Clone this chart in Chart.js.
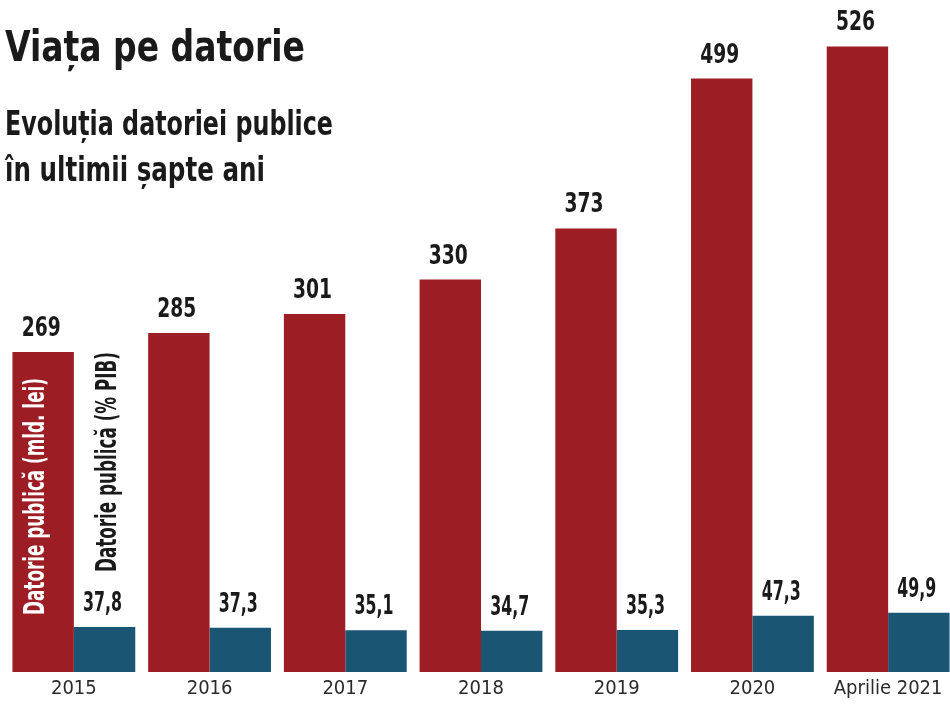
<!DOCTYPE html>
<html>
<head>
<meta charset="utf-8">
<script src="https://cdn.jsdelivr.net/npm/chart.js@4"></script>
<style>
  html, body { margin: 0; padding: 0; background: #fff; overflow: hidden; }
  #wrap { width: 950px; height: 706px; overflow: hidden; }
</style>
</head>
<body>
<div id="wrap"><canvas id="datorieChart" width="956" height="706"></canvas></div>
<script>
// date: datoria publica
const ani = ["2015", "2016", "2017", "2018", "2019", "2020", "Aprilie 2021"];
const datorieMldLei = [269, 285, 301, 330, 373, 499, 526];
const datoriePibProc = [37.8, 37.3, 35.1, 34.7, 35.3, 47.3, 49.9];

const titlu = "Viața pe datorie";
const subtitlu = ["Evoluția datoriei publice", "în ultimii șapte ani"];
const etichetaLei = "Datorie publică (mld. lei)";
const etichetaPib = "Datorie publică (% PIB)";

const ROSU = "#9c1d23";
const ALBASTRU = "#1a5673";
const FONT = "'Liberation Sans Narrow', 'DejaVu Sans Condensed', sans-serif";

// formatare cu virgula zecimala
function fmt(v) {
    return Number.isInteger(v) ? String(v) : v.toFixed(1).replace(".", ",");
}

// titluri + etichete pe bare, desenate direct pe canvas
const textePlugin = {
    id: "texte",
    afterDatasetsDraw(chart) {
        const ctx = chart.ctx;
        ctx.save();
        ctx.fillStyle = "#1a1a1a";
        ctx.textAlign = "left";
        ctx.textBaseline = "alphabetic";
        ctx.font = "bold 42px " + FONT;
        ctx.fillText(titlu, 5, 61, 300);
        ctx.font = "bold 33px " + FONT;
        ctx.fillText(subtitlu[0], 5, 135, 328);
        ctx.fillText(subtitlu[1], 5, 181, 260);

        // valori deasupra barelor
        ctx.textAlign = "center";
        ctx.font = "bold 27px " + FONT;
        chart.data.datasets.forEach((ds, i) => {
            chart.getDatasetMeta(i).data.forEach((bar, j) => {
                ctx.fillText(fmt(ds.data[j]), bar.x - 2, bar.y - 16, 39);
            });
        });

        // etichete verticale pe primul grup
        const b0 = chart.getDatasetMeta(0).data[0];
        const b1 = chart.getDatasetMeta(1).data[0];
        ctx.font = "bold 28px " + FONT;
        ctx.textAlign = "left";

        ctx.save();
        ctx.translate(b0.x + 1, 615);
        ctx.rotate(-Math.PI / 2);
        ctx.fillStyle = "#ffffff";
        ctx.fillText(etichetaLei, 0, 0, 237);
        ctx.restore();

        ctx.save();
        ctx.translate(b1.x + 11, 572);
        ctx.rotate(-Math.PI / 2);
        ctx.fillStyle = "#1a1a1a";
        ctx.fillText(etichetaPib, 0, 0, 220);
        ctx.restore();

        ctx.restore();
    }
};

new Chart(document.getElementById("datorieChart"), {
    type: "bar",
    data: {
        labels: ani,
        datasets: [
            {
                label: etichetaLei,
                data: datorieMldLei,
                backgroundColor: ROSU,
                borderWidth: 0,
                categoryPercentage: 0.905,
                barPercentage: 1,
            },
            {
                label: etichetaPib,
                data: datoriePibProc,
                backgroundColor: ALBASTRU,
                borderWidth: 0,
                categoryPercentage: 0.905,
                barPercentage: 1,
            },
        ],
    },
    options: {
        responsive: false,
        animation: false,
        layout: { padding: { left: 6, right: 0, top: 6, bottom: 0 } },
        plugins: {
            legend: { display: false },
            tooltip: { enabled: false },
        },
        scales: {
            x: {
                grid: { display: false, drawTicks: false },
                border: { display: false },
                ticks: {
                    color: "#2a2a2a",
                    font: { family: FONT, size: 20 },
                    padding: 5,
                    maxRotation: 0,
                    autoSkip: false,
                },
            },
            y: {
                display: false,
                min: 0,
                max: 560,
            },
        },
    },
    plugins: [textePlugin],
});
</script>
</body>
</html>
